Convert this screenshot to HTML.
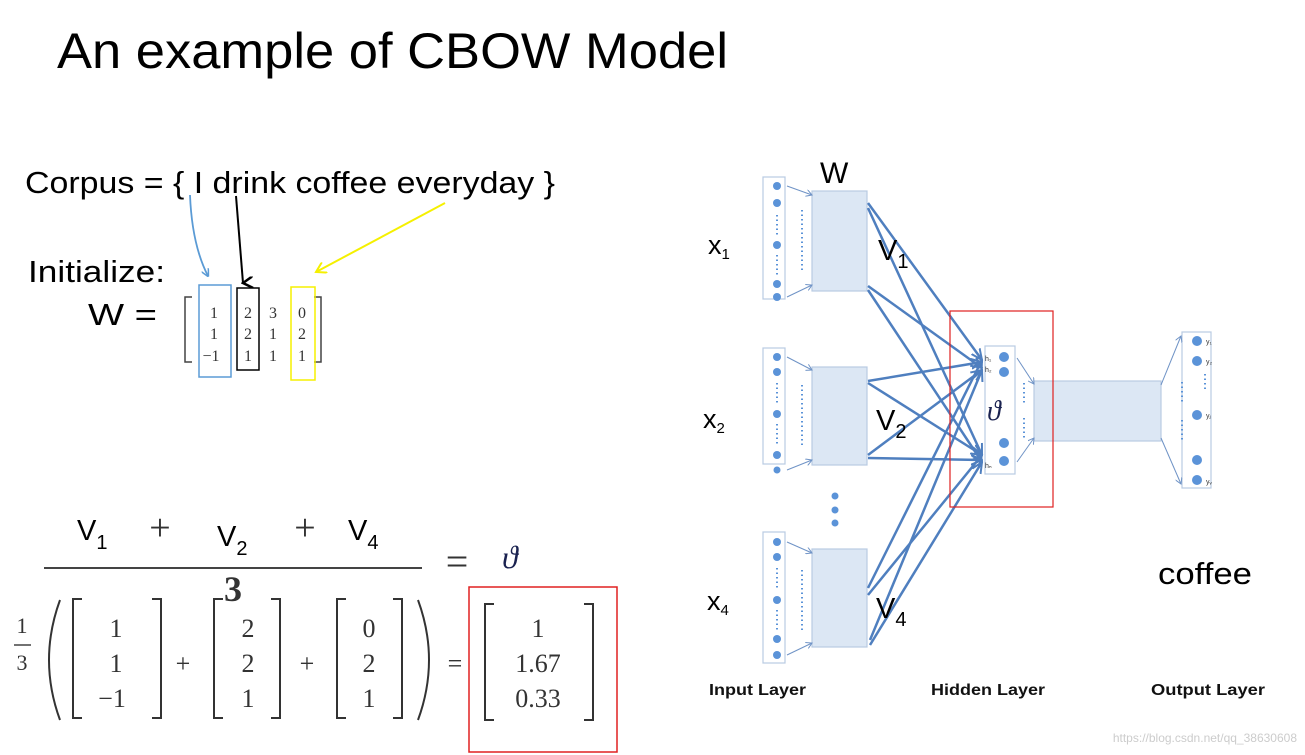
<!DOCTYPE html>
<html><head><meta charset="utf-8"><style>
html,body{margin:0;padding:0;background:#fff;}
svg{display:block;}
.s{font-family:"Liberation Sans",sans-serif;}
.m{font-family:"Liberation Serif",serif;fill:#333;}
</style></head><body>
<svg width="1305" height="755" viewBox="0 0 1305 755" xmlns="http://www.w3.org/2000/svg">
<defs>
<marker id="ab" markerWidth="8" markerHeight="8" refX="7" refY="4" orient="auto" markerUnits="userSpaceOnUse"><path d="M0,0 L8,4 L0,8" fill="none" stroke="#5b9bd5" stroke-width="1.5"/></marker>
<marker id="ak" markerWidth="12" markerHeight="12" refX="6" refY="10" orient="auto" markerUnits="userSpaceOnUse"><path d="M0,0 L6,10 L12,0" fill="none" stroke="#000" stroke-width="2.5"/></marker>
<marker id="ay" markerWidth="12" markerHeight="12" refX="10" refY="6" orient="auto" markerUnits="userSpaceOnUse"><path d="M0,0 L10,6 L0,12" fill="none" stroke="#f5f000" stroke-width="2"/></marker>
<marker id="an" markerWidth="12" markerHeight="12" refX="11" refY="6" orient="auto" markerUnits="userSpaceOnUse"><path d="M0,1 L11,6 L0,11" fill="none" stroke="#4f7fbf" stroke-width="2"/></marker>
<marker id="as" markerWidth="7" markerHeight="7" refX="6" refY="3.5" orient="auto" markerUnits="userSpaceOnUse"><path d="M0,0 L6,3.5 L0,7" fill="none" stroke="#6f93c6" stroke-width="1"/></marker>
</defs>

<text class="s" x="57" y="68" font-size="50" textLength="671" lengthAdjust="spacingAndGlyphs">An example of CBOW Model</text>
<text class="s" x="25" y="193" font-size="31" textLength="530" lengthAdjust="spacingAndGlyphs">Corpus = { I drink coffee everyday }</text>
<text class="s" x="28" y="282" font-size="31" textLength="137" lengthAdjust="spacingAndGlyphs">Initialize:</text>
<text class="s" x="88" y="325" font-size="31" textLength="69" lengthAdjust="spacingAndGlyphs">W  =</text>

<path d="M190,195 Q192,245 208,276" fill="none" stroke="#5b9bd5" stroke-width="1.8" marker-end="url(#ab)"/>
<path d="M236,196 L243,283" fill="none" stroke="#000" stroke-width="2" marker-end="url(#ak)"/>
<path d="M445,203 L316,272" fill="none" stroke="#f5f000" stroke-width="2" marker-end="url(#ay)"/>

<path d="M192,297 H185 V362 H192" fill="none" stroke="#444" stroke-width="1.5"/>
<path d="M314,297 H321 V362 H314" fill="none" stroke="#444" stroke-width="1.5"/>
<rect x="199" y="285" width="32" height="92" fill="none" stroke="#5b9bd5" stroke-width="1.5"/>
<rect x="237" y="288" width="22" height="82" fill="none" stroke="#000" stroke-width="1.5"/>
<rect x="291" y="287" width="24" height="93" fill="none" stroke="#f5f000" stroke-width="1.5"/>
<g class="m" font-size="16" text-anchor="middle">
<text x="214" y="318">1</text><text x="214" y="339">1</text><text x="211" y="361">−1</text>
<text x="248" y="318">2</text><text x="248" y="339">2</text><text x="248" y="361">1</text>
<text x="273" y="318">3</text><text x="273" y="339">1</text><text x="273" y="361">1</text>
<text x="302" y="318">0</text><text x="302" y="339">2</text><text x="302" y="361">1</text>
</g>

<text class="s" x="77" y="540" font-size="29">V<tspan font-size="20" dy="9">1</tspan></text>
<text class="s" x="217" y="546" font-size="29">V<tspan font-size="20" dy="9">2</tspan></text>
<text class="s" x="348" y="540" font-size="29">V<tspan font-size="20" dy="9">4</tspan></text>
<text class="m" x="160" y="540" font-size="38" text-anchor="middle">+</text>
<text class="m" x="305" y="540" font-size="38" text-anchor="middle">+</text>
<line x1="44" y1="568" x2="422" y2="568" stroke="#444" stroke-width="2"/>
<text class="m" x="233" y="601" font-size="36" text-anchor="middle" font-weight="bold">3</text>
<text class="m" x="457" y="575" font-size="40" text-anchor="middle">=</text>
<text x="502" y="568" font-size="32" font-style="italic" font-family="Liberation Serif,serif" fill="#1a2250">ϑ</text>

<g class="m" font-size="26" text-anchor="middle">
<text x="22" y="633" font-size="22">1</text>
<line x1="14" y1="645" x2="31" y2="645" stroke="#444" stroke-width="1.5"/>
<text x="22" y="670" font-size="22">3</text>
<text x="116" y="637">1</text><text x="116" y="672">1</text><text x="112" y="707">−1</text>
<text x="248" y="637">2</text><text x="248" y="672">2</text><text x="248" y="707">1</text>
<text x="369" y="637">0</text><text x="369" y="672">2</text><text x="369" y="707">1</text>
<text x="183" y="672">+</text><text x="307" y="672">+</text>
<text x="455" y="672">=</text>
<text x="538" y="637">1</text><text x="538" y="672">1.67</text><text x="538" y="707">0.33</text>
</g>
<path d="M60,600 Q38,660 60,720" fill="none" stroke="#333" stroke-width="2"/>
<path d="M418,600 Q440,660 418,720" fill="none" stroke="#333" stroke-width="2"/>
<g fill="none" stroke="#333" stroke-width="2">
<path d="M82,599 H73 V718 H82"/><path d="M152,599 H161 V718 H152"/>
<path d="M223,599 H214 V718 H223"/><path d="M271,599 H280 V718 H271"/>
<path d="M346,599 H337 V718 H346"/><path d="M393,599 H402 V718 H393"/>
<path d="M494,604 H485 V720 H494"/><path d="M584,604 H593 V720 H584"/>
</g>
<rect x="469" y="587" width="148" height="165" fill="none" stroke="#e02020" stroke-width="1.5"/>

<g fill="#dce7f4" stroke="#b9cbe2" stroke-width="1.2">
<rect x="763" y="177" width="22" height="122" fill="#fff"/>
<rect x="763" y="348" width="22" height="116" fill="#fff"/>
<rect x="763" y="532" width="22" height="131" fill="#fff"/>
<rect x="812" y="191" width="55" height="100"/>
<rect x="812" y="367" width="55" height="98"/>
<rect x="812" y="549" width="55" height="98"/>
<rect x="985" y="346" width="30" height="128" fill="#fff"/>
<rect x="1034" y="381" width="127" height="60"/>
<rect x="1182" y="332" width="29" height="156" fill="#fff"/>
</g>
<g fill="#5b93d8">
<circle cx="777" cy="186" r="4"/><circle cx="777" cy="203" r="4"/><circle cx="777" cy="245" r="4"/><circle cx="777" cy="284" r="4"/><circle cx="777" cy="297" r="4"/>
<circle cx="777" cy="357" r="4"/><circle cx="777" cy="372" r="4"/><circle cx="777" cy="414" r="4"/><circle cx="777" cy="455" r="4"/><circle cx="777" cy="470" r="3.5"/>
<circle cx="777" cy="542" r="4"/><circle cx="777" cy="557" r="4"/><circle cx="777" cy="600" r="4"/><circle cx="777" cy="639" r="4"/><circle cx="777" cy="655" r="4"/>
<circle cx="835" cy="496" r="3.5"/><circle cx="835" cy="510" r="3.5"/><circle cx="835" cy="523" r="3.5"/>
<circle cx="1004" cy="357" r="5"/><circle cx="1004" cy="372" r="5"/><circle cx="1004" cy="443" r="5"/><circle cx="1004" cy="461" r="5"/>
<circle cx="1197" cy="341" r="5"/><circle cx="1197" cy="361" r="5"/><circle cx="1197" cy="415" r="5"/><circle cx="1197" cy="460" r="5"/><circle cx="1197" cy="480" r="5"/>
</g>
<g stroke="#5b93d8" stroke-width="2" stroke-dasharray="1.5 3">
<line x1="777" y1="215" x2="777" y2="236"/><line x1="802" y1="210" x2="802" y2="270"/>
<line x1="777" y1="255" x2="777" y2="276"/>
<line x1="777" y1="383" x2="777" y2="405"/><line x1="802" y1="385" x2="802" y2="445"/><line x1="777" y1="424" x2="777" y2="446"/>
<line x1="777" y1="568" x2="777" y2="590"/><line x1="802" y1="570" x2="802" y2="630"/><line x1="777" y1="610" x2="777" y2="630"/>
<line x1="1024" y1="383" x2="1024" y2="405"/><line x1="1024" y1="418" x2="1024" y2="440"/>
<line x1="1182" y1="382" x2="1182" y2="404"/><line x1="1182" y1="420" x2="1182" y2="440"/>
<line x1="1205" y1="374" x2="1205" y2="392"/>
</g>
<g stroke="#6f93c6" stroke-width="1" fill="none" marker-end="url(#as)">
<line x1="787" y1="186" x2="812" y2="195"/><line x1="787" y1="297" x2="812" y2="285"/>
<line x1="787" y1="357" x2="812" y2="370"/><line x1="787" y1="470" x2="812" y2="460"/>
<line x1="787" y1="542" x2="812" y2="553"/><line x1="787" y1="655" x2="812" y2="643"/>
<line x1="1017" y1="358" x2="1034" y2="384"/><line x1="1017" y1="462" x2="1034" y2="438"/>
<line x1="1161" y1="385" x2="1181" y2="336"/><line x1="1161" y1="438" x2="1181" y2="484"/>
</g>
<g stroke="#4f7fbf" stroke-width="2.5" fill="none" marker-end="url(#an)">
<line x1="868" y1="203" x2="982" y2="360"/><line x1="868" y1="208" x2="982" y2="455"/>
<line x1="868" y1="286" x2="982" y2="368"/><line x1="868" y1="290" x2="982" y2="462"/>
<line x1="868" y1="381" x2="982" y2="362"/><line x1="868" y1="383" x2="982" y2="455"/>
<line x1="868" y1="455" x2="982" y2="370"/><line x1="868" y1="458" x2="982" y2="460"/>
<line x1="868" y1="588" x2="982" y2="360"/><line x1="868" y1="595" x2="982" y2="455"/>
<line x1="870" y1="640" x2="982" y2="370"/><line x1="870" y1="645" x2="982" y2="462"/>
</g>
<rect x="950" y="311" width="103" height="196" fill="none" stroke="#e02020" stroke-width="1.2"/>
<text x="987" y="420" font-size="28" font-style="italic" font-family="Liberation Serif,serif" fill="#1a2250">ϑ</text>
<g class="s" font-size="7" fill="#333">
<text x="985" y="361">h₁</text><text x="985" y="372">h₂</text><text x="985" y="468">hₙ</text>
<text x="1206" y="344">y₁</text><text x="1206" y="364">y₂</text><text x="1206" y="418">yⱼ</text><text x="1206" y="484">yᵥ</text>
</g>
<g class="s" fill="#000">
<text x="820" y="183" font-size="30">W</text>
<text x="708" y="254" font-size="27">x<tspan font-size="15" dy="5">1</tspan></text>
<text x="703" y="428" font-size="27">x<tspan font-size="15" dy="5">2</tspan></text>
<text x="707" y="610" font-size="27">x<tspan font-size="15" dy="5">4</tspan></text>
<text x="878" y="260" font-size="29">V<tspan font-size="20" dy="8">1</tspan></text>
<text x="876" y="430" font-size="29">V<tspan font-size="20" dy="8">2</tspan></text>
<text x="876" y="618" font-size="29">V<tspan font-size="20" dy="8">4</tspan></text>
<text x="1158" y="584" font-size="31" textLength="94" lengthAdjust="spacingAndGlyphs">coffee</text>
<text x="709" y="695" font-size="16" font-weight="bold" fill="#111" textLength="97" lengthAdjust="spacingAndGlyphs">Input Layer</text>
<text x="931" y="695" font-size="16" font-weight="bold" fill="#111" textLength="114" lengthAdjust="spacingAndGlyphs">Hidden Layer</text>
<text x="1151" y="695" font-size="16" font-weight="bold" fill="#111" textLength="114" lengthAdjust="spacingAndGlyphs">Output Layer</text>
</g>
<text class="s" x="1297" y="742" font-size="12" fill="#ccc" text-anchor="end">https://blog.csdn.net/qq_38630608</text>
</svg>
</body></html>
